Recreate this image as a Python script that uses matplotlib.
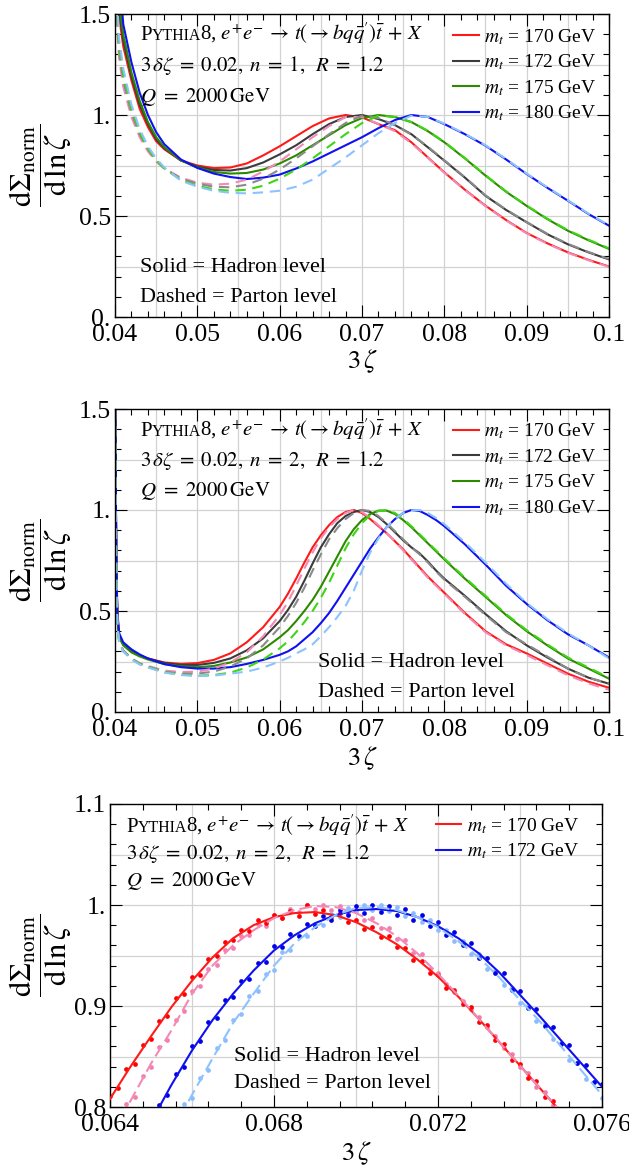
import numpy as np
import matplotlib
matplotlib.use('Agg')
import matplotlib.pyplot as plt
import matplotlib.transforms as mtransforms
from matplotlib.ticker import FixedLocator, FixedFormatter, MultipleLocator

plt.rcParams['font.family'] = 'serif'
plt.rcParams['font.serif'] = ['Liberation Serif', 'DejaVu Serif']
plt.rcParams['mathtext.fontset'] = 'stix'

MASSES = ['170', '172', '175', '180']

# ---- panel 1: n = 1 ----
X1 = [0.0400, 0.0405, 0.0410, 0.0420, 0.0430, 0.0440, 0.0450, 0.0460, 0.0480, 0.0500,
      0.0520, 0.0540, 0.0560, 0.0580, 0.0600, 0.0620, 0.0640, 0.0660, 0.0680, 0.0700,
      0.0720, 0.0740, 0.0760, 0.0780, 0.0800, 0.0825, 0.0850, 0.0875, 0.0900, 0.0925,
      0.0950, 0.0975, 0.1000]
HAD1_170 = [1.75, 1.49, 1.34, 1.17, 1.03, 0.94, 0.87, 0.83, 0.775, 0.75,
            0.737, 0.74, 0.76, 0.80, 0.845, 0.895, 0.945, 0.983, 1.0, 0.988,
            0.955, 0.925, 0.865, 0.79, 0.716, 0.63, 0.551, 0.48, 0.416, 0.365,
            0.32, 0.283, 0.25]
HAD1_172 = [1.80, 1.52, 1.37, 1.19, 1.05, 0.955, 0.88, 0.835, 0.775, 0.745,
            0.728, 0.725, 0.737, 0.765, 0.805, 0.85, 0.905, 0.955, 0.99, 1.0,
            0.98, 0.95, 0.905, 0.84, 0.774, 0.69, 0.60, 0.53, 0.469, 0.41,
            0.36, 0.32, 0.285]
HAD1_175 = [1.85, 1.55, 1.40, 1.21, 1.07, 0.965, 0.89, 0.84, 0.775, 0.74,
            0.718, 0.71, 0.713, 0.73, 0.76, 0.80, 0.85, 0.90, 0.95, 0.985,
            1.0, 0.99, 0.965, 0.92, 0.865, 0.785, 0.70, 0.62, 0.55, 0.485,
            0.427, 0.38, 0.337]
HAD1_180 = [2.2, 1.72, 1.45, 1.26, 1.11, 1.0, 0.915, 0.855, 0.78, 0.738,
            0.71, 0.693, 0.683, 0.69, 0.705, 0.735, 0.77, 0.81, 0.85, 0.89,
            0.935, 0.975, 1.0, 0.99, 0.955, 0.905, 0.848, 0.78, 0.708, 0.64,
            0.576, 0.51, 0.452]
PAR1_170 = [1.6, 1.28, 1.14, 0.99, 0.89, 0.82, 0.77, 0.735, 0.69, 0.665,
            0.655, 0.66, 0.68, 0.72, 0.77, 0.83, 0.89, 0.945, 0.99, 0.99,
            0.955, 0.92, 0.86, 0.788, 0.714, 0.628, 0.549, 0.478, 0.414, 0.363,
            0.318, 0.281, 0.248]
PAR1_172 = [1.65, 1.31, 1.17, 1.01, 0.905, 0.83, 0.775, 0.735, 0.685, 0.66,
            0.645, 0.642, 0.655, 0.685, 0.73, 0.785, 0.845, 0.905, 0.96, 0.997,
            0.985, 0.95, 0.903, 0.843, 0.776, 0.692, 0.602, 0.532, 0.47, 0.412,
            0.362, 0.322, 0.287]
PAR1_175 = [1.7, 1.34, 1.2, 1.03, 0.915, 0.835, 0.775, 0.735, 0.678, 0.65,
            0.632, 0.625, 0.63, 0.65, 0.685, 0.73, 0.785, 0.845, 0.905, 0.96,
            0.997, 0.99, 0.965, 0.922, 0.867, 0.787, 0.702, 0.622, 0.552, 0.487,
            0.43, 0.383, 0.34]
PAR1_180 = [1.75, 1.38, 1.23, 1.05, 0.93, 0.845, 0.785, 0.74, 0.675, 0.645,
            0.625, 0.615, 0.612, 0.617, 0.625, 0.645, 0.68, 0.735, 0.79, 0.85,
            0.91, 0.96, 0.997, 0.99, 0.957, 0.907, 0.85, 0.782, 0.71, 0.642,
            0.578, 0.512, 0.454]

# ---- panel 2: n = 2 ----
X2 = [0.0400, 0.0401, 0.0402, 0.0403, 0.0405, 0.041, 0.042, 0.043, 0.044, 0.046,
      0.048, 0.050, 0.052, 0.054, 0.056, 0.058, 0.060, 0.061, 0.062, 0.063,
      0.064, 0.065, 0.066, 0.067, 0.068, 0.069, 0.070, 0.071, 0.072, 0.073,
      0.074, 0.075, 0.076, 0.077, 0.078, 0.079, 0.080, 0.0825, 0.085, 0.0875,
      0.090, 0.0925, 0.095, 0.0975, 0.100]
HAD2_170 = [1.7, 1.05, 0.62, 0.47, 0.38, 0.335, 0.30, 0.28, 0.265, 0.245,
            0.238, 0.242, 0.258, 0.29, 0.345, 0.42, 0.52, 0.585, 0.66, 0.74,
            0.815, 0.875, 0.925, 0.965, 0.99, 1.0, 0.985, 0.955, 0.92, 0.885,
            0.845, 0.805, 0.76, 0.715, 0.67, 0.63, 0.59, 0.49, 0.40, 0.335,
            0.29, 0.24, 0.19, 0.15, 0.12]
HAD2_172 = [1.7, 1.05, 0.62, 0.47, 0.38, 0.335, 0.30, 0.28, 0.265, 0.243,
            0.233, 0.233, 0.243, 0.265, 0.305, 0.365, 0.45, 0.505, 0.57, 0.65,
            0.735, 0.815, 0.88, 0.935, 0.97, 0.99, 1.0, 0.99, 0.965, 0.93,
            0.89, 0.85, 0.815, 0.785, 0.745, 0.70, 0.66, 0.575, 0.485, 0.40,
            0.33, 0.27, 0.215, 0.17, 0.14]
HAD2_175 = [1.7, 1.05, 0.60, 0.46, 0.37, 0.33, 0.295, 0.275, 0.26, 0.237,
            0.226, 0.222, 0.228, 0.245, 0.27, 0.31, 0.37, 0.405, 0.45, 0.50,
            0.555, 0.62, 0.695, 0.77, 0.845, 0.905, 0.95, 0.98, 0.997, 0.997,
            0.98, 0.95, 0.915, 0.875, 0.835, 0.795, 0.755, 0.66, 0.57, 0.48,
            0.40, 0.33, 0.265, 0.215, 0.165]
HAD2_180 = [1.75, 1.1, 0.65, 0.49, 0.39, 0.345, 0.31, 0.285, 0.265, 0.237,
            0.222, 0.215, 0.215, 0.222, 0.238, 0.258, 0.283, 0.30, 0.325, 0.36,
            0.395, 0.44, 0.49, 0.55, 0.615, 0.68, 0.745, 0.81, 0.865, 0.915,
            0.955, 0.985, 1.0, 0.995, 0.975, 0.95, 0.92, 0.83, 0.73, 0.625,
            0.535, 0.455, 0.385, 0.33, 0.27]
PAR2_170 = [1.5, 0.95, 0.55, 0.42, 0.35, 0.305, 0.265, 0.242, 0.228, 0.205,
            0.198, 0.20, 0.215, 0.245, 0.295, 0.375, 0.48, 0.545, 0.625, 0.71,
            0.79, 0.86, 0.915, 0.955, 0.985, 1.0, 0.99, 0.96, 0.925, 0.885,
            0.845, 0.80, 0.755, 0.71, 0.665, 0.625, 0.585, 0.485, 0.395, 0.33,
            0.282, 0.232, 0.182, 0.142, 0.11]
PAR2_172 = [1.5, 0.95, 0.55, 0.42, 0.35, 0.305, 0.265, 0.24, 0.225, 0.20,
            0.19, 0.19, 0.20, 0.225, 0.265, 0.33, 0.42, 0.475, 0.54, 0.615,
            0.70, 0.78, 0.855, 0.91, 0.955, 0.985, 1.0, 0.995, 0.97, 0.935,
            0.895, 0.855, 0.815, 0.78, 0.74, 0.695, 0.655, 0.57, 0.48, 0.395,
            0.335, 0.275, 0.215, 0.17, 0.14]
PAR2_175 = [1.5, 0.95, 0.55, 0.42, 0.35, 0.30, 0.262, 0.238, 0.222, 0.197,
            0.185, 0.18, 0.183, 0.195, 0.22, 0.26, 0.315, 0.35, 0.395, 0.445,
            0.50, 0.565, 0.64, 0.725, 0.81, 0.88, 0.935, 0.975, 0.995, 1.0,
            0.985, 0.955, 0.92, 0.88, 0.84, 0.80, 0.76, 0.665, 0.575, 0.485,
            0.405, 0.335, 0.27, 0.22, 0.17]
PAR2_180 = [1.5, 0.95, 0.55, 0.42, 0.35, 0.30, 0.26, 0.235, 0.22, 0.195,
            0.183, 0.178, 0.18, 0.19, 0.20, 0.22, 0.25, 0.268, 0.29, 0.31,
            0.335, 0.375, 0.42, 0.47, 0.525, 0.60, 0.70, 0.79, 0.86, 0.915,
            0.955, 0.985, 0.998, 1.0, 0.985, 0.96, 0.93, 0.84, 0.74, 0.635,
            0.54, 0.46, 0.39, 0.33, 0.265]

# ---- panel 3: zoom on the peak, n = 2 ----
X3 = [0.0640, 0.0645, 0.0650, 0.0655, 0.0660, 0.0665, 0.0670, 0.0675, 0.0680, 0.0685,
      0.0690, 0.0695, 0.0700, 0.0705, 0.0710, 0.0715, 0.0720, 0.0725, 0.0730, 0.0735,
      0.0740, 0.0745, 0.0750, 0.0755, 0.0760]
HAD3_170 = [0.808, 0.840, 0.870, 0.899, 0.925, 0.948, 0.967, 0.980, 0.988, 0.992,
            0.993, 0.990, 0.983, 0.973, 0.961, 0.946, 0.929, 0.909, 0.887, 0.864,
            0.841, 0.818, 0.795, 0.772, None]
PAR3_170 = [0.775, 0.806, 0.843, 0.876, 0.912, 0.940, 0.960, 0.975, 0.987, 0.995,
            0.999, 0.998, 0.992, 0.982, 0.969, 0.952, 0.932, 0.910, 0.887, 0.864,
            0.841, 0.818, 0.795, 0.772, None]
HAD3_172 = [None, None, 0.785, 0.822, 0.856, 0.886, 0.912, 0.935, 0.955, 0.970,
            0.982, 0.990, 0.995, 0.996, 0.994, 0.988, 0.979, 0.967, 0.952, 0.933,
            0.911, 0.889, 0.866, 0.843, 0.820]
PAR3_172 = [None, None, None, 0.775, 0.812, 0.848, 0.883, 0.912, 0.940, 0.962,
            0.978, 0.990, 0.997, 0.998, 0.995, 0.988, 0.978, 0.964, 0.948, 0.928,
            0.906, 0.884, 0.860, 0.836, 0.812]

DOT_X = [0.0640, 0.0642, 0.0644, 0.0646, 0.0648, 0.0650, 0.0652, 0.0654, 0.0656, 0.0658,
         0.0660, 0.0662, 0.0664, 0.0666, 0.0668, 0.0670, 0.0672, 0.0674, 0.0676, 0.0678,
         0.0680, 0.0682, 0.0684, 0.0686, 0.0688, 0.0690, 0.0692, 0.0694, 0.0696, 0.0698,
         0.0700, 0.0702, 0.0704, 0.0706, 0.0708, 0.0710, 0.0712, 0.0714, 0.0716, 0.0718,
         0.0720, 0.0722, 0.0724, 0.0726, 0.0728, 0.0730, 0.0732, 0.0734, 0.0736, 0.0738,
         0.0740, 0.0742, 0.0744, 0.0746, 0.0748, 0.0750, 0.0752, 0.0754, 0.0756, 0.0758,
         0.0760]
DOT_HAD_170 = [0.811, 0.819, 0.838, 0.843, 0.861, 0.867, 0.885, 0.890, 0.908, 0.912,
               0.929, 0.931, 0.947, 0.950, 0.963, 0.965, 0.975, 0.974, 0.985, 0.982,
               0.990, 0.987, 0.994, 0.989, 1.000, 0.991, 0.995, 0.988, 0.992, 0.983,
               0.985, 0.976, 0.978, 0.968, 0.969, 0.958, 0.957, 0.946, 0.945, 0.933,
               0.931, 0.918, 0.916, 0.902, 0.899, 0.884, 0.881, 0.866, 0.862, 0.847,
               0.843, 0.829, 0.826, 0.810, 0.806, None, None, None, None, None,
               None]
DOT_PAR_170 = [None, None, 0.803, 0.810, 0.831, 0.840, 0.859, 0.866, 0.886, 0.895,
               0.915, 0.920, 0.937, 0.941, 0.955, 0.957, 0.969, 0.970, 0.981, 0.979,
               0.990, 0.987, 0.996, 0.993, 1.000, 0.996, 1.000, 0.995, 0.999, 0.992,
               0.995, 0.985, 0.987, 0.977, 0.977, 0.966, 0.965, 0.952, 0.951, 0.937,
               0.933, 0.922, 0.914, 0.905, 0.897, 0.889, 0.879, 0.870, 0.858, 0.852,
               0.840, 0.834, 0.820, 0.815, 0.802, None, None, None, None, None,
               None]
DOT_HAD_172 = [None, None, None, None, None, None, 0.802, 0.812, 0.833, 0.840,
               0.860, 0.865, 0.884, 0.888, 0.906, 0.909, 0.925, 0.927, 0.943, 0.944,
               0.959, 0.958, 0.971, 0.969, 0.981, 0.979, 0.989, 0.985, 0.995, 0.990,
               0.999, 0.992, 1.000, 0.993, 0.999, 0.990, 0.996, 0.985, 0.990, 0.979,
               0.983, 0.970, 0.973, 0.960, 0.962, 0.948, 0.948, 0.933, 0.933, 0.916,
               0.915, 0.898, 0.897, 0.880, 0.879, 0.862, 0.861, 0.844, 0.842, 0.825,
               0.823]
DOT_PAR_172 = [None, None, None, None, None, None, None, None, None, 0.803,
               0.809, 0.829, 0.837, 0.858, 0.866, 0.886, 0.892, 0.910, 0.915, 0.932,
               0.936, 0.953, 0.955, 0.969, 0.969, 0.981, 0.980, 0.991, 0.988, 0.997,
               0.994, 1.000, 0.995, 1.000, 0.994, 0.998, 0.989, 0.992, 0.983, 0.985,
               0.975, 0.975, 0.964, 0.964, 0.951, 0.951, 0.937, 0.935, 0.921, 0.918,
               0.903, 0.900, 0.885, 0.882, 0.867, 0.863, 0.847, 0.844, 0.828, 0.825,
               0.809]

HAD_COLORS = ['#ff1a1a', '#3c3c3c', '#2d8a00', '#1010f0']
PAR_COLORS = ['#f28ab5', '#8a8a8a', '#3cd614', '#8cc3ff']

W, H = 629, 1166
fig = plt.figure(figsize=(W / 100, H / 100), dpi=100)

TICK_FS = 18.5
HEAD_FS = 15
LEVEL_FS = 16
LEG_FS = 14


def add_axes(l, t, r, b):
    return fig.add_axes([l / W, 1 - b / H, (r - l) / W, (b - t) / H])


def style(ax, xlim, ylim, xt, xtl, xminor, yt, ytl, yminor, xgrid, ygrid):
    ax.set_xlim(*xlim)
    ax.set_ylim(*ylim)
    ax.xaxis.set_major_locator(FixedLocator(xt))
    ax.xaxis.set_major_formatter(FixedFormatter(xtl))
    ax.xaxis.set_minor_locator(MultipleLocator(xminor))
    ax.yaxis.set_major_locator(FixedLocator(yt))
    ax.yaxis.set_major_formatter(FixedFormatter(ytl))
    ax.yaxis.set_minor_locator(MultipleLocator(yminor))
    ax.tick_params(which='both', direction='in', top=True, right=True, width=0.8)
    ax.tick_params(which='major', length=8.5, labelsize=TICK_FS)
    ax.tick_params(axis='x', which='major', pad=5)
    ax.tick_params(axis='y', which='major', pad=3)
    ax.tick_params(which='minor', length=4.5)
    for g in xgrid:
        ax.axvline(g, color='#d2d2d2', lw=0.9, zorder=0)
    for g in ygrid:
        ax.axhline(g, color='#d2d2d2', lw=0.9, zorder=0)
    for s in ax.spines.values():
        s.set_linewidth(1.0)


renderer = fig.canvas.get_renderer()


def header(ax, x, y, dy, nval, fs=HEAD_FS):
    tr = ax.transAxes
    off = 0.0
    parts = [('P', fs, 0.0), ('YTHIA', fs * 0.76, 0.5),
             (r'8, $e^{+}e^{-}\,\rightarrow\, t(\rightarrow b q\bar{q}^{\prime})\bar{t}\, +\, X$', fs, -1.0)]
    for s, f, adj in parts:
        off += adj
        t = ax.text(x, y, s, transform=mtransforms.offset_copy(tr, fig=fig, x=off, y=0, units='dots'),
                    fontsize=f, va='baseline')
        off += t.get_window_extent(renderer).width
    ax.text(x, y - dy, r'$3\,\delta\zeta\;=\;0.02,\;n\;=\;%d,\;\;R\;=\;1.2$' % nval,
            transform=tr, fontsize=fs, va='baseline')
    ax.text(x, y - 2 * dy, r'$Q\ =\ 2000\,\mathrm{GeV}$', transform=tr, fontsize=fs, va='baseline')


def level_text(ax, x, y, dy, fs=LEVEL_FS):
    ax.text(x, y, 'Solid = Hadron level', transform=ax.transAxes, fontsize=fs, va='baseline')
    ax.text(x, y - dy, 'Dashed = Parton level', transform=ax.transAxes, fontsize=fs, va='baseline')


def legend(ax, handles, anchor):
    ax.legend(handles=handles, loc='upper right', bbox_to_anchor=anchor, frameon=False,
              fontsize=LEG_FS, handlelength=1.3, handletextpad=0.3, labelspacing=0.3,
              borderpad=0, borderaxespad=0)


def arr(v):
    return np.array([np.nan if a is None else a for a in v], dtype=float)


YLAB = r'$\dfrac{\mathrm{d}\Sigma_{\mathrm{norm}}}{\mathrm{d}\,\ln\zeta}$'
XLAB = r'$3\,\zeta$'
YLAB_FS = 22
XLAB_FS = 19

# ---------------- panel 1 ----------------
box = (115, 14, 609, 317)
ax = add_axes(*box)
style(ax, (0.04, 0.1), (0, 1.5), [0.04, 0.05, 0.06, 0.07, 0.08, 0.09, 0.1],
      ['0.04', '0.05', '0.06', '0.07', '0.08', '0.09', '0.1'], 0.002,
      [0, 0.5, 1.0, 1.5], ['0.', '0.5', '1.', '1.5'], 0.1,
      np.arange(0.045, 0.1, 0.005), [0.25, 0.5, 0.75, 1.0, 1.25])
hl = []
for ys, c, m in zip([HAD1_170, HAD1_172, HAD1_175, HAD1_180], HAD_COLORS, MASSES):
    hl += ax.plot(X1, ys, color=c, lw=1.5, label=r'$m_t$ = %s GeV' % m)
for ys, c in zip([PAR1_170, PAR1_172, PAR1_175, PAR1_180], PAR_COLORS):
    ax.plot(X1, ys, color=c, lw=1.5, dashes=(5, 3.2))
legend(ax, hl, (0.975, 0.957))
header(ax, (140 - 115) / 494, (317 - 40) / 303, 31 / 303, 1)
level_text(ax, (140 - 115) / 494, (317 - 272) / 303, 30 / 303)
fig.text(40 / W, 1 - 165 / H, YLAB, rotation=90, ha='center', va='center', fontsize=YLAB_FS)
fig.text(362 / W, 1 - 361 / H, XLAB, ha='center', va='center', fontsize=XLAB_FS)

# ---------------- panel 2 ----------------
box = (115, 409, 609, 712)
ax = add_axes(*box)
style(ax, (0.04, 0.1), (0, 1.5), [0.04, 0.05, 0.06, 0.07, 0.08, 0.09, 0.1],
      ['0.04', '0.05', '0.06', '0.07', '0.08', '0.09', '0.1'], 0.002,
      [0, 0.5, 1.0, 1.5], ['0.', '0.5', '1.', '1.5'], 0.1,
      np.arange(0.045, 0.1, 0.005), [0.25, 0.5, 0.75, 1.0, 1.25])
hl = []
for ys, c, m in zip([HAD2_170, HAD2_172, HAD2_175, HAD2_180], HAD_COLORS, MASSES):
    hl += ax.plot(X2, ys, color=c, lw=1.5, label=r'$m_t$ = %s GeV' % m)
for ys, c in zip([PAR2_170, PAR2_172, PAR2_175, PAR2_180], PAR_COLORS):
    ax.plot(X2, ys, color=c, lw=1.5, dashes=(5, 3.2))
legend(ax, hl, (0.975, 0.958))
header(ax, (140 - 115) / 494, (712 - 436) / 303, 30 / 303, 2)
level_text(ax, (318 - 115) / 494, (712 - 667) / 303, 30 / 303)
fig.text(40 / W, 1 - 560 / H, YLAB, rotation=90, ha='center', va='center', fontsize=YLAB_FS)
fig.text(362 / W, 1 - 758 / H, XLAB, ha='center', va='center', fontsize=XLAB_FS)

# ---------------- panel 3 ----------------
box = (110, 804, 602, 1107)
ax = add_axes(*box)
style(ax, (0.064, 0.076), (0.8, 1.1), [0.064, 0.068, 0.072, 0.076],
      ['0.064', '0.068', '0.072', '0.076'], 0.0008,
      [0.8, 0.9, 1.0, 1.1], ['0.8', '0.9', '1.', '1.1'], 0.02,
      [0.066, 0.068, 0.070, 0.072, 0.074], [0.85, 0.9, 0.95, 1.0, 1.05])
ax.plot(DOT_X, arr(DOT_PAR_170), 'o', color='#f27fb0', ms=3.4, mew=0, zorder=2)
ax.plot(DOT_X, arr(DOT_PAR_172), 'o', color='#8cbcff', ms=3.4, mew=0, zorder=2)
ax.plot(DOT_X, arr(DOT_HAD_170), 'o', color='#ff0000', ms=3.4, mew=0, zorder=2)
ax.plot(DOT_X, arr(DOT_HAD_172), 'o', color='#0000e8', ms=3.4, mew=0, zorder=2)
hl = []
hl += ax.plot(X3, arr(HAD3_170), color='#ff1a1a', lw=1.5, zorder=3, label=r'$m_t$ = 170 GeV')
hl += ax.plot(X3, arr(HAD3_172), color='#1010f0', lw=1.5, zorder=3, label=r'$m_t$ = 172 GeV')
ax.plot(X3, arr(PAR3_170), color='#f28ab5', lw=1.5, dashes=(6, 2.5), zorder=3)
ax.plot(X3, arr(PAR3_172), color='#8cc3ff', lw=1.5, dashes=(6, 2.5), zorder=3)
legend(ax, hl, (0.953, 0.96))
header(ax, (126 - 110) / 492, (1107 - 832) / 303, 27 / 303, 2)
level_text(ax, (234 - 110) / 492, (1107 - 1061) / 303, 27.5 / 303)
fig.text(40 / W, 1 - 955 / H, YLAB, rotation=90, ha='center', va='center', fontsize=YLAB_FS)
fig.text(356 / W, 1 - 1153 / H, XLAB, ha='center', va='center', fontsize=XLAB_FS)

fig.savefig('out.png', dpi=100)
